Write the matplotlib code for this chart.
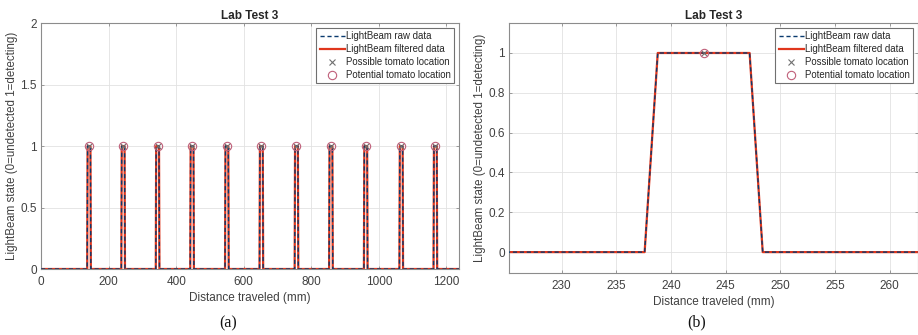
import matplotlib
matplotlib.use("Agg")
import matplotlib.pyplot as plt
import numpy as np

# Light-beam pulses: start of rise, fully on, start of fall, back to zero (mm)
rise_start = [136.6, 237.6, 339.6, 441.6, 544.6, 646.6, 750.6, 852.6, 955.6, 1060.6, 1161.6]
rise_end   = [137.8, 238.8, 340.8, 442.8, 545.8, 647.8, 751.8, 853.8, 956.8, 1061.8, 1162.8]
fall_start = [146.2, 247.2, 349.2, 451.2, 554.2, 656.2, 760.2, 862.2, 965.2, 1070.2, 1171.2]
fall_end   = [147.4, 248.4, 350.4, 452.4, 555.4, 657.4, 761.4, 863.4, 966.4, 1071.4, 1172.4]
track_end = 1237.0

# Detected tomato positions (mm)
tomato_x = [142, 243, 345, 447, 550, 652, 756, 858, 961, 1066, 1167]
tomato_y = [1, 1, 1, 1, 1, 1, 1, 1, 1, 1, 1]

# Assemble the beam state trace from the pulse edges
dist = [0.0]
state = [0]
for a, b, c, d in zip(rise_start, rise_end, fall_start, fall_end):
    dist += [a, b, c, d]
    state += [0, 1, 1, 0]
dist.append(track_end)
state.append(0)

raw_color = "#0a3a6e"
filt_color = "#e0361c"
circ_color = "#c0607a"
cross_color = "#707070"
text_color = "#262626"
spine_color = "#8c8c8c"

plt.rcParams["font.family"] = ["Liberation Sans", "DejaVu Sans"]

fig = plt.figure(figsize=(9.18, 3.35), dpi=100)
ax1 = fig.add_axes([0.0447, 0.197, 0.4553, 0.734])
ax2 = fig.add_axes([0.5545, 0.185, 0.4455, 0.746])


def style(ax):
    ax.grid(True, color="#e2e2e2", linewidth=0.6)
    ax.set_axisbelow(True)
    for s in ax.spines.values():
        s.set_color(spine_color)
        s.set_linewidth(0.8)
    ax.tick_params(direction="in", length=2.5, width=0.6, color=spine_color,
                   labelsize=8.5, labelcolor="#404040", top=True, right=True)
    ax.tick_params(axis="x", pad=5)
    ax.tick_params(axis="y", pad=3)
    ax.set_title("Lab Test 3", fontsize=8.5, fontweight="bold", color=text_color, pad=3)
    ax.set_xlabel("Distance traveled (mm)", fontsize=8.5, color="#404040", labelpad=3)
    ax.set_ylabel("LightBeam state (0=undetected 1=detecting)", fontsize=8.3,
                  color="#404040", labelpad=2)


def draw(ax, lw_f, lw_r):
    ax.plot(dist, state, color=filt_color, lw=lw_f, label="LightBeam filtered data", zorder=2)
    ax.plot(dist, state, color=raw_color, lw=lw_r, ls=(0, (3, 2)), label="LightBeam raw data", zorder=3)
    ax.plot(tomato_x, tomato_y, ls="none", marker="x", color=cross_color, ms=4.5, mew=0.8,
            label="Possible tomato location", zorder=4)
    ax.plot(tomato_x, tomato_y, ls="none", marker="o", mfc="none", mec=circ_color, ms=6, mew=0.8,
            label="Potential tomato location", zorder=4)
    h, l = ax.get_legend_handles_labels()
    order = [1, 0, 2, 3]
    leg = ax.legend([h[i] for i in order], [l[i] for i in order], loc="upper right",
                    fontsize=6.9, handlelength=2.6, handletextpad=0.15, borderpad=0.35,
                    labelspacing=0.3, borderaxespad=0.5, fancybox=False, framealpha=1)
    leg.get_frame().set_edgecolor("#707070")
    leg.get_frame().set_linewidth(0.8)
    for t in leg.get_texts():
        t.set_color(text_color)


draw(ax1, 1.6, 1.0)
style(ax1)
ax1.set_xlim(0, 1237)
ax1.set_ylim(0, 2)
ax1.set_xticks([0, 200, 400, 600, 800, 1000, 1200])
ax1.set_yticks([0, 0.5, 1, 1.5, 2])
ax1.set_yticklabels(["0", "0.5", "1", "1.5", "2"])

draw(ax2, 1.6, 1.0)
style(ax2)
ax2.set_xlim(225.2, 262.6)
ax2.set_ylim(-0.105, 1.15)
ax2.set_xticks([230, 235, 240, 245, 250, 255, 260])
ax2.set_yticks([0, 0.2, 0.4, 0.6, 0.8, 1])
ax2.set_yticklabels(["0", "0.2", "0.4", "0.6", "0.8", "1"])

serif = ["Liberation Serif", "DejaVu Serif"]
fig.text(0.248, 0.036, "(a)", fontsize=11.5, family=serif, ha="center", va="center", color="#111111")
fig.text(0.759, 0.038, "(b)", fontsize=11.5, family=serif, ha="center", va="center", color="#111111")

fig.savefig("out.png", dpi=100)
